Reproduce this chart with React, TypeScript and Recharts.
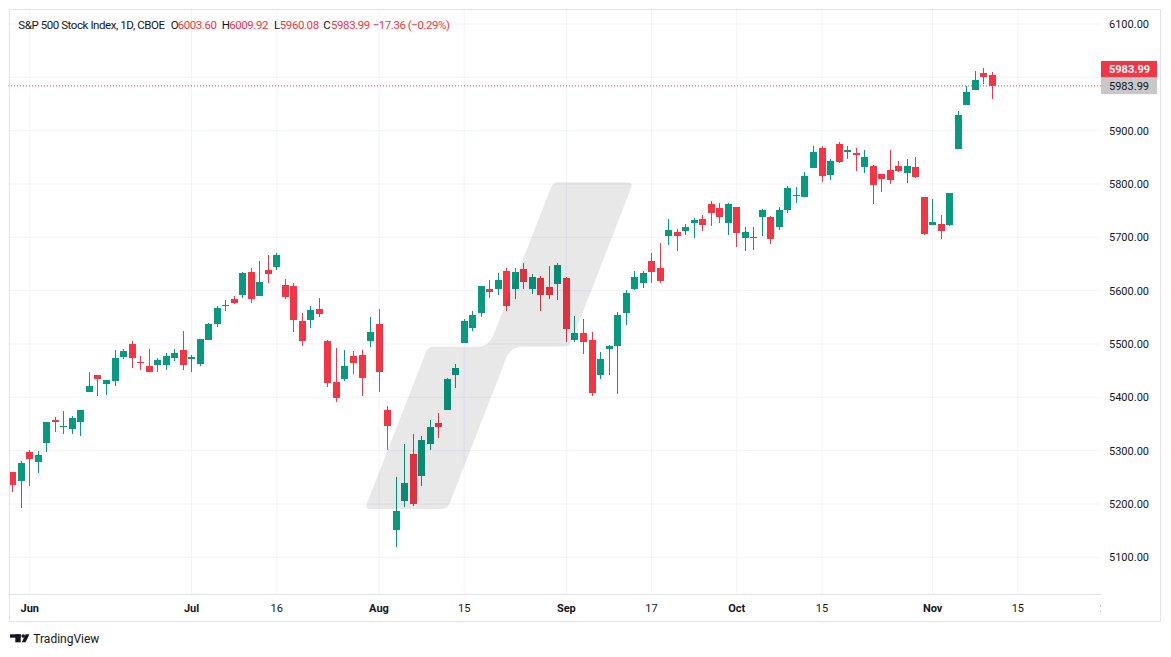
import React from 'react'
import { ComposedChart, Bar, XAxis, YAxis, CartesianGrid, ReferenceLine } from 'recharts'

// S&P 500 daily candles, 30 May – 12 Nov 2024
const dates = [
  '2024-05-30', '2024-05-31',
  '2024-06-03', '2024-06-04', '2024-06-05', '2024-06-06', '2024-06-07', '2024-06-10', '2024-06-11', '2024-06-12', '2024-06-13', '2024-06-14',
  '2024-06-17', '2024-06-18', '2024-06-20', '2024-06-21', '2024-06-24', '2024-06-25', '2024-06-26', '2024-06-27', '2024-06-28',
  '2024-07-01', '2024-07-02', '2024-07-03', '2024-07-05', '2024-07-08', '2024-07-09', '2024-07-10', '2024-07-11', '2024-07-12', '2024-07-15',
  '2024-07-16', '2024-07-17', '2024-07-18', '2024-07-19', '2024-07-22', '2024-07-23', '2024-07-24', '2024-07-25', '2024-07-26', '2024-07-29',
  '2024-07-30', '2024-07-31',
  '2024-08-01', '2024-08-02', '2024-08-05', '2024-08-06', '2024-08-07', '2024-08-08', '2024-08-09', '2024-08-12', '2024-08-13', '2024-08-14',
  '2024-08-15', '2024-08-16', '2024-08-19', '2024-08-20', '2024-08-21', '2024-08-22', '2024-08-23', '2024-08-26', '2024-08-27', '2024-08-28',
  '2024-08-29', '2024-08-30',
  '2024-09-03', '2024-09-04', '2024-09-05', '2024-09-06', '2024-09-09', '2024-09-10', '2024-09-11', '2024-09-12', '2024-09-13', '2024-09-16',
  '2024-09-17', '2024-09-18', '2024-09-19', '2024-09-20', '2024-09-23', '2024-09-24', '2024-09-25', '2024-09-26', '2024-09-27', '2024-09-30',
  '2024-10-01', '2024-10-02', '2024-10-03', '2024-10-04', '2024-10-07', '2024-10-08', '2024-10-09', '2024-10-10', '2024-10-11', '2024-10-14',
  '2024-10-15', '2024-10-16', '2024-10-17', '2024-10-18', '2024-10-21', '2024-10-22', '2024-10-23', '2024-10-24', '2024-10-25', '2024-10-28',
  '2024-10-29', '2024-10-30', '2024-10-31',
  '2024-11-01', '2024-11-04', '2024-11-05', '2024-11-06', '2024-11-07', '2024-11-08', '2024-11-11', '2024-11-12',
]

const opens = [
  5259.77, 5243.21,
  5297.15, 5278.24, 5314.48, 5357.8, 5343.81, 5341.22, 5353.0, 5409.13, 5441.93, 5424.08,
  5431.11, 5476.15, 5499.99, 5466.77, 5459.58, 5460.73, 5460.71, 5473.59, 5488.48,
  5471.08, 5461.84, 5507.44, 5537.91, 5572.75, 5584.24, 5591.26, 5635.21, 5590.76, 5638.16,
  5644.09, 5610.07, 5608.56, 5543.37, 5544.21, 5565.3, 5505.84, 5428.7, 5433.67, 5476.55,
  5478.73, 5505.59,
  5537.84, 5376.63, 5151.14, 5206.42, 5293.13, 5252.57, 5311.76, 5351.88, 5376.98, 5442.22,
  5501.13, 5530.5, 5557.23, 5602.88, 5603.09, 5637.77, 5602.9, 5639.66, 5602.89, 5624.51,
  5607.3, 5612.74,
  5623.9, 5506.68, 5520.08, 5507.33, 5442.07, 5490.51, 5496.42, 5557.48, 5603.34, 5615.21,
  5655.51, 5641.68, 5702.63, 5709.24, 5711.9, 5727.41, 5733.65, 5762.22, 5755.36, 5726.52,
  5757.73, 5698.19, 5698.19, 5737.8, 5737.8, 5719.14, 5751.8, 5778.36, 5775.09, 5829.81,
  5866.74, 5816.58, 5875.62, 5859.43, 5857.82, 5832.7, 5834.5, 5817.8, 5826.75, 5833.93,
  5819.68, 5832.65, 5775.34,
  5723.22, 5725.15, 5722.43, 5864.89, 5947.21, 5976.76, 6008.86, 6003.6,
]

const highs = [
  5260.21, 5280.33,
  5302.11, 5298.8, 5354.16, 5362.35, 5375.08, 5365.79, 5375.95, 5447.25, 5441.93, 5432.39,
  5488.5, 5490.38, 5505.53, 5478.31, 5490.81, 5472.88, 5483.14, 5490.81, 5523.64,
  5479.55, 5509.69, 5539.27, 5570.33, 5583.11, 5590.75, 5635.39, 5642.45, 5655.56, 5666.94,
  5669.67, 5622.49, 5614.05, 5557.5, 5570.36, 5585.34, 5508.04, 5491.59, 5488.32, 5487.74,
  5489.46, 5551.51,
  5566.16, 5383.89, 5250.89, 5312.34, 5330.64, 5328.03, 5358.0, 5371.2, 5436.5, 5463.22,
  5546.23, 5561.98, 5608.3, 5620.51, 5632.68, 5643.22, 5641.82, 5651.62, 5631.18, 5627.03,
  5646.95, 5651.37,
  5625.0, 5552.99, 5547.7, 5522.47, 5484.2, 5497.91, 5560.41, 5600.71, 5636.27, 5636.05,
  5670.81, 5689.75, 5733.57, 5715.14, 5725.36, 5735.32, 5741.03, 5767.37, 5763.78, 5765.14,
  5757.73, 5719.14, 5718.78, 5753.41, 5739.34, 5757.6, 5796.8, 5795.03, 5822.13, 5871.41,
  5870.36, 5846.52, 5878.46, 5872.17, 5866.92, 5863.04, 5834.85, 5817.8, 5862.82, 5842.92,
  5847.19, 5850.94, 5775.34,
  5772.05, 5741.43, 5783.44, 5936.14, 5983.84, 6012.45, 6017.31, 6009.92,
]

const lows = [
  5222.1, 5191.68,
  5234.32, 5257.63, 5297.64, 5335.36, 5331.33, 5331.52, 5327.25, 5409.13, 5402.51, 5403.75,
  5420.4, 5471.32, 5455.56, 5452.03, 5447.59, 5446.56, 5451.87, 5467.54, 5451.12,
  5446.53, 5458.43, 5507.42, 5531.63, 5562.51, 5574.57, 5586.44, 5576.53, 5590.44, 5614.75,
  5639.02, 5584.81, 5522.81, 5497.04, 5529.04, 5550.9, 5419.98, 5390.95, 5430.7, 5444.44,
  5403.0, 5493.75,
  5410.42, 5302.03, 5119.26, 5193.56, 5195.54, 5233.85, 5302.0, 5324.37, 5376.98, 5418.0,
  5501.13, 5525.17, 5550.74, 5585.5, 5591.57, 5560.95, 5585.16, 5602.34, 5593.48, 5560.95,
  5583.71, 5581.79,
  5504.33, 5503.66, 5481.34, 5402.62, 5434.49, 5441.72, 5406.96, 5535.5, 5601.65, 5604.53,
  5614.05, 5615.08, 5686.42, 5674.49, 5704.94, 5698.99, 5712.06, 5721.01, 5727.34, 5703.53,
  5681.28, 5674.0, 5677.04, 5702.83, 5686.85, 5714.56, 5745.02, 5764.76, 5775.09, 5829.81,
  5804.48, 5808.34, 5840.25, 5846.11, 5824.78, 5821.17, 5762.41, 5784.92, 5799.98, 5823.08,
  5802.17, 5811.28, 5703.57,
  5723.22, 5696.51, 5722.1, 5864.89, 5947.21, 5976.76, 5986.69, 5960.08,
]

const closes = [
  5235.48, 5277.51,
  5283.4, 5291.34, 5354.03, 5352.96, 5346.99, 5360.79, 5375.32, 5421.03, 5433.74, 5431.6,
  5473.23, 5487.03, 5473.17, 5464.62, 5447.87, 5469.3, 5477.9, 5482.87, 5460.48,
  5475.09, 5509.01, 5537.02, 5567.19, 5572.85, 5576.98, 5633.91, 5584.54, 5615.35, 5631.22,
  5667.2, 5588.27, 5544.59, 5505.0, 5564.41, 5555.74, 5427.13, 5399.22, 5459.1, 5463.54,
  5436.44, 5522.3,
  5446.68, 5346.56, 5186.33, 5240.03, 5199.5, 5319.31, 5344.16, 5344.39, 5434.43, 5455.21,
  5543.22, 5554.25, 5608.25, 5597.12, 5620.85, 5570.64, 5634.61, 5616.84, 5625.8, 5592.18,
  5591.96, 5648.4,
  5528.93, 5520.07, 5503.41, 5408.42, 5471.05, 5495.52, 5554.13, 5595.76, 5626.02, 5633.09,
  5634.58, 5618.26, 5713.64, 5702.55, 5718.57, 5732.93, 5722.26, 5745.37, 5738.17, 5762.48,
  5708.75, 5709.54, 5699.94, 5751.07, 5695.94, 5751.13, 5792.04, 5780.05, 5815.03, 5859.85,
  5815.26, 5842.47, 5841.47, 5864.67, 5853.98, 5851.2, 5797.42, 5809.86, 5808.12, 5823.52,
  5832.92, 5813.67, 5705.45,
  5728.8, 5712.69, 5782.76, 5929.04, 5973.1, 5995.54, 6001.35, 5983.99,
]

// empty sessions to the right of the last bar
const futureDates = [
  '2024-11-13', '2024-11-14', '2024-11-15', '2024-11-18', '2024-11-19', '2024-11-20', '2024-11-21',
  '2024-11-22', '2024-11-25', '2024-11-26', '2024-11-27', '2024-11-29', '2024-12-02',
]

const tickDates = [
  '2024-06-03', '2024-07-01', '2024-07-16', '2024-08-01', '2024-08-15', '2024-09-03',
  '2024-09-17', '2024-10-01', '2024-10-15', '2024-11-01', '2024-11-15', '2024-12-02',
]
const tickLabels = ['Jun', 'Jul', '16', 'Aug', '15', 'Sep', '17', 'Oct', '15', 'Nov', '15', '2']

const priceTicks = [5100, 5200, 5300, 5400, 5500, 5600, 5700, 5800, 5900, 6000, 6100]
const yDomain = [5030.25, 6126.25]

const title = 'S&P 500 Stock Index, 1D, CBOE'

const W = 1171
const H = 657
const PLOT_LEFT = 8.44
const PLOT_RIGHT = 1101
const PLOT_TOP = 10
const PLOT_BOTTOM = 594.5
const SLOT = 8.518

const FONT = 'Roboto, "Noto Sans", sans-serif'
const TEXT = '#131722'
const UP = '#089981'
const DOWN = '#f23645'
const GRID = '#f0f3fa'
const FRAME = '#e0e3eb'

const last = closes.length - 1
const lastClose = closes[last]
const change = lastClose - closes[last - 1]
const changePct = (change / closes[last - 1]) * 100
const minus = (s: string) => s.replace('-', '\u2212')

const chartData = [
  ...dates.map((date, i) => ({
    date,
    open: opens[i],
    high: highs[i],
    low: lows[i],
    close: closes[i],
    range: [lows[i], highs[i]],
  })),
  ...futureDates.map((date) => ({ date })),
]

const slotCount = chartData.length
const xPadRight = PLOT_RIGHT - (PLOT_LEFT + slotCount * SLOT)

function Candle(props: any) {
  const { x, y, width, height, payload } = props
  if (!payload || payload.open == null) return null
  const top = Math.min(y, y + height)
  const bottom = Math.max(y, y + height)
  const span = payload.high - payload.low || 1
  const py = (v: number) => bottom - ((v - payload.low) / span) * (bottom - top)
  const color = payload.close >= payload.open ? UP : DOWN
  const cx = Math.floor(x + width / 2)
  const bTop = Math.round(py(Math.max(payload.open, payload.close)))
  const bBot = Math.round(py(Math.min(payload.open, payload.close)))
  const wTop = Math.round(top)
  const wBot = Math.round(bottom)
  return (
    <g>
      <rect x={cx} y={wTop} width={1} height={Math.max(1, wBot - wTop)} fill={color} />
      <rect x={cx - 3} y={bTop} width={7} height={Math.max(1, bBot - bTop)} fill={color} />
    </g>
  )
}

function DateTick(props: any) {
  const { x, y, payload } = props
  const label = tickLabels[tickDates.indexOf(payload.value)]
  if (label == null) return null
  const isMonth = /^[A-Za-z]/.test(label)
  return (
    <text x={x} y={y + 9.5} textAnchor="middle" fontSize={11} fontWeight={isMonth ? 700 : 400} fill={TEXT} fontFamily={FONT}>
      {label}
    </text>
  )
}

function PriceTick(props: any) {
  const { x, y, payload } = props
  // labels under the last-price tags are hidden
  if (Math.abs(payload.value - lastClose) < 30) return null
  return (
    <text x={x} y={y + 4} fontSize={11} fill={TEXT} fontFamily={FONT}>
      {payload.value.toFixed(2)}
    </text>
  )
}

function PriceTag(props: any) {
  const vb = props.viewBox
  if (!vb) return null
  const x = vb.x + vb.width
  const y = vb.y
  const h = 16.6
  return (
    <g fontFamily={FONT} fontSize={11}>
      <rect x={x} y={y - h * 1.5} width={56} height={h} fill={DOWN} />
      <text x={x + 8} y={y - h + 4} fill="#ffffff" fontWeight={700}>{lastClose.toFixed(2)}</text>
      <rect x={x} y={y - h / 2} width={56} height={h} fill="#c8c8c8" />
      <text x={x + 8} y={y + 4} fill={TEXT}>{lastClose.toFixed(2)}</text>
    </g>
  )
}

// faint logo mark across the middle of the pane
const watermark =
  'M 370.7 509 L 441.4 509 Q 447.4 509 449.6 503.4 L 506.3 357.9 Q 510.7 346.7 522.7 346.7 L 563.5 346.7 ' +
  'Q 569.5 346.7 571.7 341.1 L 631.1 187.9 Q 633.3 182.3 627.3 182.3 L 559 182.3 Q 553 182.3 550.8 187.9 ' +
  'L 493.2 335.5 Q 488.8 346.7 476.8 346.7 L 434 346.7 Q 428 346.7 425.8 352.3 L 366.9 503.4 Q 364.7 509 370.7 509 Z'

function Overlay() {
  const head = [
    { x: 170.7, vx: 177.7, k: 'O', v: opens[last].toFixed(2) },
    { x: 221.7, vx: 229.2, k: 'H', v: highs[last].toFixed(2) },
    { x: 274, vx: 279.8, k: 'L', v: lows[last].toFixed(2) },
    { x: 323.3, vx: 331, k: 'C', v: closes[last].toFixed(2) },
  ]
  return (
    <svg width={W} height={H} style={{ position: 'absolute', left: 0, top: 0, pointerEvents: 'none' }}>
      <path d={watermark} fill="rgba(0,0,0,0.09)" />
      <rect x={PLOT_RIGHT} y={PLOT_TOP} width={7} height={51} fill="#ffffff" />
      <rect x={PLOT_RIGHT} y={94.5} width={7} height={527} fill="#ffffff" />
      <rect x={9.5} y={9.5} width={1151} height={612} fill="none" stroke={FRAME} />
      <g fontFamily={FONT} fontSize={11.5}>
        <text x={18.3} y={29.3} fill={TEXT} textLength={146.7}>{title}</text>
        {head.map((h) => (
          <g key={h.k}>
            <text x={h.x} y={29.3} fill={TEXT}>{h.k}</text>
            <text x={h.vx} y={29.3} fill={DOWN} textLength={39.3}>{h.v}</text>
          </g>
        ))}
        <text x={372.7} y={29.3} fill={DOWN} textLength={77.3}>
          {minus(change.toFixed(2))} ({minus(changePct.toFixed(2))}%)
        </text>
      </g>
      <g fill={TEXT}>
        <rect x={10} y={634.3} width={10.7} height={3.4} />
        <rect x={15.3} y={634.3} width={5.4} height={8} />
        <circle cx={23.2} cy={636} r={1.8} />
        <polygon points="21.8,642.3 25.6,642.3 29.4,634.3 25.6,634.3" />
        <text x={33.3} y={643} fontSize={12} fontFamily={FONT}>TradingView</text>
      </g>
    </svg>
  )
}

export default function App() {
  return (
    <div style={{ position: 'absolute', left: 0, top: 0, width: W, height: H, background: '#ffffff' }}>
      <ComposedChart
        width={W}
        height={H}
        data={chartData}
        margin={{ top: PLOT_TOP, right: 0, bottom: H - PLOT_BOTTOM - 28, left: PLOT_LEFT }}
      >
        <CartesianGrid stroke={GRID} syncWithTicks />
        <XAxis
          dataKey="date"
          type="category"
          ticks={tickDates}
          interval={0}
          height={28}
          padding={{ left: 0, right: xPadRight }}
          tickLine={false}
          axisLine={{ stroke: FRAME }}
          tick={<DateTick />}
        />
        <YAxis
          orientation="right"
          type="number"
          domain={yDomain}
          ticks={priceTicks}
          allowDataOverflow
          width={W - PLOT_RIGHT}
          axisLine={false}
          tickLine={false}
          tick={<PriceTick />}
        />
        <Bar dataKey="range" barCategoryGap={0} shape={(p: any) => <Candle {...p} />} isAnimationActive={false} />
        <ReferenceLine y={lastClose} stroke={DOWN} strokeDasharray="1 2" label={<PriceTag />} />
      </ComposedChart>
      <Overlay />
    </div>
  )
}
